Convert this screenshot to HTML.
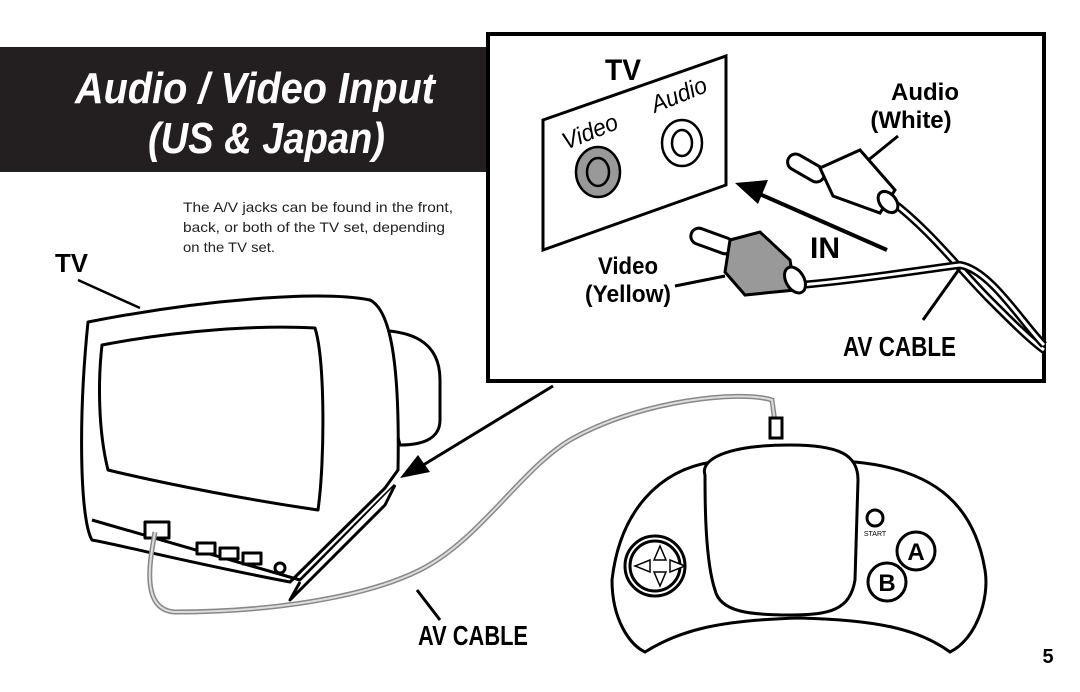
<!DOCTYPE html>
<html><head><style>
html,body{margin:0;padding:0;background:#fff;}
body{width:1080px;height:692px;position:relative;overflow:hidden;font-family:"Liberation Sans",sans-serif;}
svg{position:absolute;left:0;top:0;}
</style></head><body>
<svg width="1080" height="692" viewBox="0 0 1080 692" font-family="Liberation Sans, sans-serif">
<!-- banner -->
<rect x="0" y="47" width="492" height="125" fill="#231f20"/>
<text x="75" y="103" fill="#fff" font-size="44" font-weight="bold" font-style="italic" textLength="360" lengthAdjust="spacingAndGlyphs">Audio / Video Input</text>
<text x="148" y="153" fill="#fff" font-size="44" font-weight="bold" font-style="italic" textLength="237" lengthAdjust="spacingAndGlyphs">(US &amp; Japan)</text>
<!-- inset box -->
<rect x="488" y="34" width="556" height="347" fill="#fff" stroke="#000" stroke-width="4"/>
<text x="605" y="80" font-size="30" font-weight="bold" textLength="36" lengthAdjust="spacingAndGlyphs">TV</text>
<polygon points="543,120 726,56 726,185 543,250" fill="#fff" stroke="#000" stroke-width="3"/>
<text x="566" y="150" font-size="24" font-style="italic" transform="rotate(-22 566 150)" textLength="58" lengthAdjust="spacingAndGlyphs">Video</text>
<text x="655" y="113" font-size="24" font-style="italic" transform="rotate(-22 655 113)" textLength="58" lengthAdjust="spacingAndGlyphs">Audio</text>
<ellipse cx="598" cy="172" rx="22" ry="25" fill="#999" stroke="#000" stroke-width="2.5"/>
<ellipse cx="598" cy="172" rx="11" ry="14" fill="#999" stroke="#000" stroke-width="2.5"/>
<ellipse cx="682" cy="143" rx="20" ry="23" fill="#fff" stroke="#000" stroke-width="2.5"/>
<ellipse cx="682" cy="143" rx="10" ry="13" fill="#fff" stroke="#000" stroke-width="2.5"/>
<text x="925" y="100" font-size="24" font-weight="bold" text-anchor="middle">Audio</text>
<text x="911" y="128" font-size="24" font-weight="bold" text-anchor="middle">(White)</text>
<line x1="898" y1="136" x2="850" y2="175" stroke="#000" stroke-width="3"/>
<!-- white plug -->
<g stroke="#000" stroke-width="3" fill="#fff">
<path d="M890,200 C930,230 960,270 990,300 C1010,320 1030,340 1044,350" fill="none" stroke-width="8"/>
<path d="M890,200 C930,230 960,270 990,300 C1010,320 1030,340 1044,350" fill="none" stroke="#fff" stroke-width="3"/>
<rect x="786" y="160" width="40" height="16" rx="8" transform="rotate(30 806 168)"/>
<path d="M820,168 L860,150 L895,190 L880,213 L833,196 Z"/>
<ellipse cx="888" cy="202" rx="8" ry="12" transform="rotate(-40 888 202)"/>
</g>
<!-- video plug -->
<g stroke="#000" stroke-width="3">
<path d="M800,285 C860,280 920,270 960,265 C990,270 1020,320 1044,345" fill="none" stroke-width="8"/>
<path d="M800,285 C860,280 920,270 960,265 C990,270 1020,320 1044,345" fill="none" stroke="#fff" stroke-width="3"/>
<rect x="690" y="233" width="44" height="16" rx="8" fill="#fff" transform="rotate(20 712 241)"/>
<path d="M730,240 L760,232 L790,260 L795,290 L745,295 L725,272 Z" fill="#999"/>
<ellipse cx="795" cy="280" rx="9" ry="14" fill="#fff" transform="rotate(-30 795 280)"/>
</g>
<line x1="887" y1="250" x2="755" y2="192" stroke="#000" stroke-width="4"/>
<polygon points="735,183 768,180 758,204" fill="#000"/>
<text x="810" y="258" font-size="30" font-weight="bold">IN</text>
<text x="598" y="274" font-size="24" font-weight="bold" textLength="60" lengthAdjust="spacingAndGlyphs">Video</text>
<text x="585" y="302" font-size="24" font-weight="bold" textLength="86" lengthAdjust="spacingAndGlyphs">(Yellow)</text>
<line x1="675" y1="286" x2="725" y2="276" stroke="#000" stroke-width="3"/>
<line x1="923" y1="320" x2="960" y2="268" stroke="#000" stroke-width="3"/>
<text x="843" y="356" font-size="28" font-weight="bold" textLength="113" lengthAdjust="spacingAndGlyphs">AV CABLE</text>
<!-- description -->
<text font-size="14" fill="#222">
<tspan x="183" y="212" textLength="270" lengthAdjust="spacingAndGlyphs">The A/V jacks can be found in the front,</tspan>
<tspan x="183" y="232" textLength="262" lengthAdjust="spacingAndGlyphs">back, or both of the TV set, depending</tspan>
<tspan x="183" y="252" textLength="92" lengthAdjust="spacingAndGlyphs">on the TV set.</tspan></text>
<text x="55" y="272" font-size="26" font-weight="bold" textLength="33" lengthAdjust="spacingAndGlyphs">TV</text>
<line x1="78" y1="280" x2="140" y2="308" stroke="#000" stroke-width="2.5"/>
<!-- TV -->
<g stroke="#000" stroke-width="3" fill="#fff" stroke-linejoin="round">
<path d="M370,330 C410,330 440,340 440,380 L440,420 C440,440 420,445 400,445 Z"/>
<path d="M88,322 C200,300 320,290 370,300 C390,310 400,360 398,470 L385,488 L290,582 C200,565 120,545 92,540 C80,520 78,420 88,322 Z"/>
<path d="M92,520 L300,580 L395,485" fill="none"/>
<path d="M102,345 C180,330 260,325 315,328 C325,360 325,460 318,510 C250,500 170,485 108,470 C98,430 98,380 102,345 Z"/>
<path d="M300,582 L290,600 L385,505 L395,485" />
<rect x="145" y="522" width="24" height="16"/>
<rect x="197" y="543" width="18" height="11"/>
<rect x="220" y="548" width="18" height="11"/>
<rect x="243" y="553" width="18" height="11"/>
<circle cx="280" cy="568" r="5"/>
</g>
<line x1="553" y1="386" x2="420" y2="467" stroke="#000" stroke-width="3"/>
<polygon points="400,478 418,455 430,472" fill="#000"/>
<!-- cable -->
<path d="M155,532 C150,560 140,610 175,612 C260,612 360,600 420,570 C480,540 520,470 570,440 C640,400 740,390 772,400 L776,430" fill="none" stroke="#888" stroke-width="5"/>
<path d="M155,532 C150,560 140,610 175,612 C260,612 360,600 420,570 C480,540 520,470 570,440 C640,400 740,390 772,400 L776,430" fill="none" stroke="#ddd" stroke-width="2"/>
<line x1="417" y1="590" x2="440" y2="620" stroke="#000" stroke-width="3"/>
<text x="418" y="645" font-size="28" font-weight="bold" textLength="110" lengthAdjust="spacingAndGlyphs">AV CABLE</text>
<text x="1048" y="663" font-size="20" font-weight="bold" text-anchor="middle">5</text>
<!-- controller -->
<g stroke="#000" stroke-width="3" fill="#fff">
<rect x="770" y="418" width="12" height="20"/>
<path d="M712,462 C660,470 620,510 612,580 C612,620 630,645 645,652 C680,630 720,620 800,618 C880,620 920,630 950,652 C975,640 990,600 985,570 C975,510 940,470 855,462 Z"/>
<path d="M705,475 C700,460 725,445 790,445 C840,445 858,455 858,480 L855,580 C850,610 830,615 790,615 C750,615 720,612 715,590 C705,560 705,500 705,475 Z"/>
<circle cx="655" cy="566" r="30"/>
<circle cx="655" cy="566" r="25"/>
<circle cx="875" cy="518" r="8"/>
<circle cx="916" cy="551" r="19"/>
<circle cx="887" cy="582" r="19"/>
</g>
<g fill="#fff" stroke="#000" stroke-width="1.5">
<polygon points="660,546 654,560 666,560"/><polygon points="660,586 654,572 666,572"/>
<polygon points="635,566 650,560 650,572"/><polygon points="685,566 670,560 670,572"/>
</g>
<text x="875" y="536" font-size="7" text-anchor="middle">START</text>
<text x="916" y="560" font-size="24" font-weight="bold" text-anchor="middle">A</text>
<text x="887" y="591" font-size="24" font-weight="bold" text-anchor="middle">B</text>
</svg>
</body></html>
